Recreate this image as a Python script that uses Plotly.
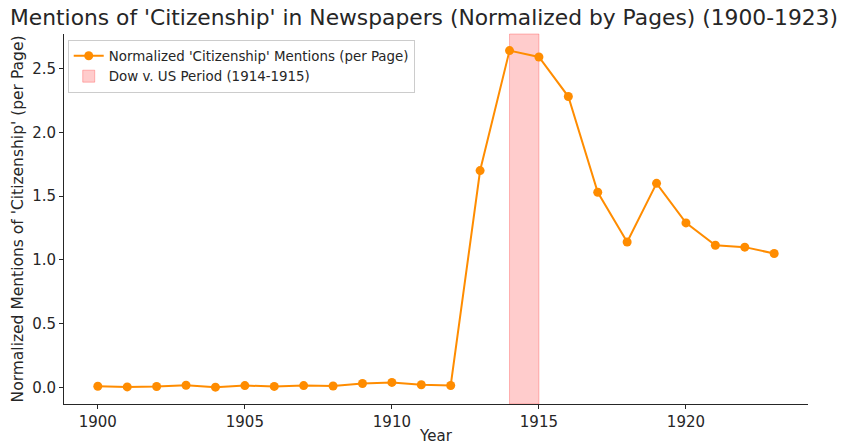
import plotly.graph_objects as go

years = list(range(1900, 1924))
mentions = [0.010, 0.005, 0.008, 0.018, 0.003, 0.015, 0.009, 0.015, 0.012, 0.032, 0.040, 0.022, 0.016,
            1.70, 2.64, 2.59, 2.28, 1.53, 1.14, 1.60, 1.29, 1.115, 1.10, 1.05]
period = [1914, 1915]
x_ticks = [1900, 1905, 1910, 1915, 1920]
y_ticks = [0.0, 0.5, 1.0, 1.5, 2.0, 2.5]

FONT = "DejaVu Sans"
fig = go.Figure()
fig.add_trace(go.Scatter(
    x=years, y=mentions, mode="lines+markers",
    name="Normalized 'Citizenship' Mentions (per Page)",
    line=dict(color="#ff8c00", width=2),
    marker=dict(color="#ff8c00", size=9),
))
fig.add_shape(
    type="rect", xref="x", yref="paper", x0=period[0], x1=period[1], y0=0, y1=1,
    fillcolor="rgba(255,0,0,0.2)", line=dict(color="rgba(255,0,0,0.25)", width=1),
    layer="below", showlegend=True, name="Dow v. US Period (1914-1915)",
)
fig.update_layout(
    width=844, height=445,
    margin=dict(l=64, r=36, t=34, b=41),
    paper_bgcolor="white", plot_bgcolor="white",
    font=dict(family=FONT, size=15, color="#262626"),
    title=dict(text="Mentions of 'Citizenship' in Newspapers (Normalized by Pages) (1900-1923)",
               x=424 / 844, xanchor="center", y=1 - 17 / 445, yanchor="middle",
               font=dict(size=21.8, color="#262626")),
    legend=dict(x=0.005, y=0.985, xanchor="left", yanchor="top",
                bordercolor="#cccccc", borderwidth=1, bgcolor="rgba(255,255,255,0.8)",
                font=dict(size=13.4), tracegroupgap=0),
    showlegend=True,
)
fig.update_xaxes(
    range=[1898.85, 1924.15], tickvals=x_ticks, ticktext=[str(t) for t in x_ticks],
    showgrid=False, zeroline=False, showline=True, linecolor="#262626", linewidth=1,
    ticks="outside", ticklen=4, tickcolor="#262626", tickfont=dict(size=15),
    title=dict(text="Year", font=dict(size=15), standoff=2), automargin=False,
)
fig.update_yaxes(
    range=[-0.129, 2.77], tickvals=y_ticks, ticktext=[f"{t:.1f}" for t in y_ticks],
    showgrid=False, zeroline=False, showline=True, linecolor="#262626", linewidth=1,
    ticks="outside", ticklen=4, tickcolor="#262626", tickfont=dict(size=15),
    title=dict(text="Normalized Mentions of 'Citizenship' (per Page)", font=dict(size=15.5), standoff=4),
    automargin=False,
)
fig.write_html(
    "out.html",
    config={"displayModeBar": False},
    post_script="document.body.style.margin='0';document.body.style.overflow='hidden';",
)
